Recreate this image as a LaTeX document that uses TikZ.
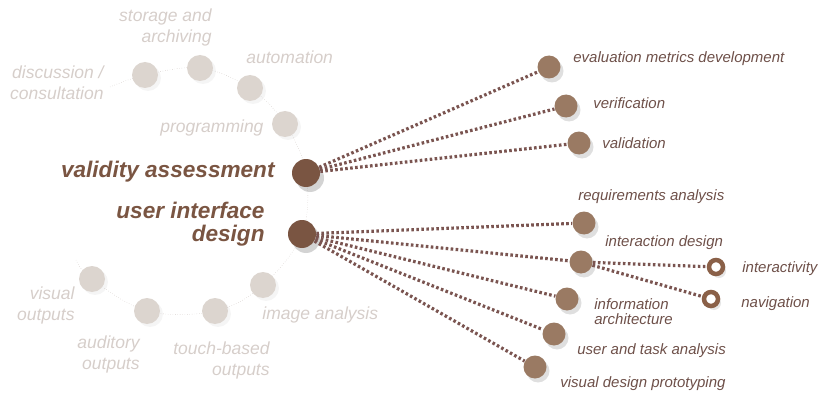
\documentclass[tikz,border=0pt]{standalone}
\usepackage{fontspec}
\setmainfont{Liberation Sans}
\usetikzlibrary{shadows}

\definecolor{ghost}{HTML}{DCD5CF}
\definecolor{ghosttext}{HTML}{D6CECA}
\definecolor{ghostarc}{HTML}{BDB3AE}
\definecolor{hubbrown}{HTML}{7A5542}
\definecolor{leafbrown}{HTML}{9A7A63}
\definecolor{ringbrown}{HTML}{8A6048}
\definecolor{linkbrown}{HTML}{7A5450}
\definecolor{textbrown}{HTML}{6E5049}

\begin{document}
\begin{tikzpicture}[x=1pt, y=-1pt, thick,
    faint/.style = {circle, fill=ghost, minimum size=26pt, inner sep=0pt,
        drop shadow={opacity=0.08, shadow xshift=3pt, shadow yshift=-3pt}},
    hub/.style = {circle, fill=hubbrown, minimum size=28pt, inner sep=0pt,
        drop shadow={opacity=0.35, shadow xshift=4pt, shadow yshift=-5pt}},
    leaf/.style = {circle, fill=leafbrown, minimum size=23pt, inner sep=0pt,
        drop shadow={opacity=0.25, shadow xshift=3pt, shadow yshift=-4pt}},
    ring/.style = {circle, draw=ringbrown, line width=4.5pt, fill=white, minimum size=14pt, inner sep=0pt,
        drop shadow={opacity=0.2, shadow xshift=3pt, shadow yshift=-4pt}},
    link/.style = {draw=linkbrown, line width=3.2pt, dash pattern=on 2.6pt off 2.4pt},
    tag/.style = {font=\itshape\fontsize{15}{15}\selectfont, text=textbrown, inner sep=0pt, align=left},
    ghosttag/.style = {font=\itshape\fontsize{17.5}{21}\selectfont, text=ghosttext, inner sep=0pt, align=right},
    hubtag/.style = {font=\bfseries\itshape\fontsize{22.6}{23}\selectfont, text=hubbrown, inner sep=0pt, align=right}]

    \useasboundingbox (0,0) rectangle (820,396);

    % the faint arc
    \draw[ghostarc, thin, dotted] plot[smooth, tension=0.6] coordinates {
        (110,87) (145,75) (200,68) (250,88) (285,124) (306,173) (302,234)
        (263,285) (215,311) (147,311) (92,279) (76,260)};

    \node[faint] (disc) at (145,75) {};
    \node[faint] (stor) at (200,68) {};
    \node[faint] (auto) at (250,88) {};
    \node[faint] (prog) at (285,124) {};
    \node[faint] (imag) at (263,285) {};
    \node[faint] (touch) at (215,311) {};
    \node[faint] (audi) at (147,311) {};
    \node[faint] (visu) at (92,279) {};

    \node[ghosttag, anchor=east] (discT) at (104,83) {discussion /\\consultation};
    \node[ghosttag, anchor=east] (storT) at (212,27) {storage and\\archiving};
    \node[ghosttag, anchor=west] (autoT) at (246,57) {automation};
    \node[ghosttag, anchor=west] (progT) at (160,128) {programming};
    \node[ghosttag, anchor=west] (imagT) at (262,315) {image analysis};
    \node[ghosttag, anchor=east] (touchT) at (270,360) {touch-based\\outputs};
    \node[ghosttag, anchor=east] (audiT) at (140,354) {auditory\\outputs};
    \node[ghosttag, anchor=east] (visuT) at (75,305) {visual\\outputs};

    % hubs
    \node[hub] (valid) at (306,173) {};
    \node[hub] (uid) at (302,234) {};
    \node[hubtag, anchor=east] (validT) at (275,172) {validity assessment};
    \node[hubtag, anchor=east] (uidT) at (265,224) {user interface\\design};

    % leaves
    \node[leaf] (eval) at (549,67) {};
    \node[leaf] (verif) at (566,106) {};
    \node[leaf] (valn) at (579,143) {};
    \node[leaf] (req) at (584,223) {};
    \node[leaf] (inter) at (581,262) {};
    \node[leaf] (info) at (567,299) {};
    \node[leaf] (user) at (554,334) {};
    \node[leaf] (proto) at (535,367) {};
    \node[ring] (act) at (716,267) {};
    \node[ring] (nav) at (711,299) {};

    \node[tag, anchor=west] (evalT) at (573,59) {evaluation metrics development};
    \node[tag, anchor=west] (verifT) at (593,103) {verification};
    \node[tag, anchor=west] (valnT) at (602,143) {validation};
    \node[tag, anchor=west] (reqT) at (578,197) {requirements analysis};
    \node[tag, anchor=west] (interT) at (605,243) {interaction design};
    \node[tag, anchor=west] (infoT) at (594,312) {information\\architecture};
    \node[tag, anchor=west] (userT) at (577,351) {user and task analysis};
    \node[tag, anchor=west] (protoT) at (560,384) {visual design prototyping};
    \node[tag, anchor=west] (actT) at (742,269) {interactivity};
    \node[tag, anchor=west] (navT) at (741,304) {navigation};

    \path[link]
    (valid) edge (eval)
    (valid) edge (verif)
    (valid) edge (valn)

    (uid) edge (req)
    (uid) edge (inter)
    (uid) edge (info)
    (uid) edge (user)
    (uid) edge (proto)

    (inter) edge (act)
    (inter) edge (nav)
    ;
\end{tikzpicture}
\end{document}
